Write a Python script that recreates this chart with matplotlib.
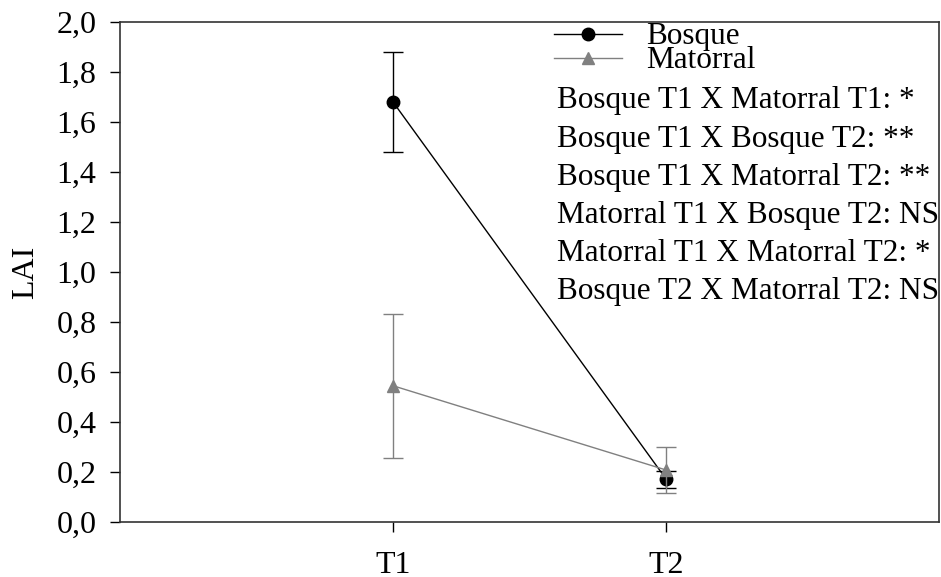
import numpy as np
import matplotlib
matplotlib.use("Agg")
import matplotlib.pyplot as plt

plt.rcParams['font.family'] = ['Liberation Serif', 'DejaVu Serif']

### data
times = ['T1', 'T2']
bosque_mean = [1.68, 0.172]
bosque_err = [0.20, 0.034]
matorral_mean = [0.545, 0.208]
matorral_err = [0.288, 0.092]

comparisons = ['Bosque T1 X Matorral T1: *',
               'Bosque T1 X Bosque T2: **',
               'Bosque T1 X Matorral T2: **',
               'Matorral T1 X Bosque T2: NS',
               'Matorral T1 X Matorral T2: *',
               'Bosque T2 X Matorral T2: NS']

fs = 23
fs_txt = 22.5
x = np.arange(1, len(times) + 1)

fig = plt.figure(figsize=(9.41, 5.77), dpi=100)
ax = fig.add_axes([0.1275, 0.0953, 0.8705, 0.8666])

eb_b = ax.errorbar(x, bosque_mean, yerr=bosque_err, color='black', marker='o',
                   markersize=9, lw=1, capsize=7, capthick=1, elinewidth=1,
                   label='Bosque', zorder=3)
eb_m = ax.errorbar(x, matorral_mean, yerr=matorral_err, color='#808080', marker='^',
                   markersize=9, lw=1, capsize=7, capthick=1, elinewidth=1,
                   label='Matorral', zorder=4)

ax.set_xlim(0, 3)
ax.set_ylim(0, 2.0)
ax.set_xticks(x)
ax.set_xticklabels(times)
yt = np.arange(0, 2.01, 0.2)
ax.set_yticks(yt)
ax.set_yticklabels([('%.1f' % v).replace('.', ',') for v in yt])
ax.tick_params(axis='both', direction='out', length=7, width=1, labelsize=fs)
ax.tick_params(axis='x', pad=14)
ax.tick_params(axis='y', pad=10)
ax.set_ylabel('LAI', fontsize=fs, labelpad=12)
for s in ax.spines.values():
    s.set_color('#333333')
    s.set_linewidth(1.2)

# legend shows line + marker only, no error bars
leg = ax.legend(handles=[eb_b[0], eb_m[0]], labels=['Bosque', 'Matorral'],
                loc='upper left', bbox_to_anchor=(0.515, 1.024), frameon=False,
                fontsize=fs_txt, handlelength=2.15, handletextpad=0.8,
                labelspacing=-0.16, borderaxespad=0)

ax.text(0.534, 0.871, '\n'.join(comparisons), transform=ax.transAxes,
        fontsize=fs_txt, va='top', ha='left', linespacing=1.41, clip_on=False)

fig.savefig('out.png', dpi=100)
